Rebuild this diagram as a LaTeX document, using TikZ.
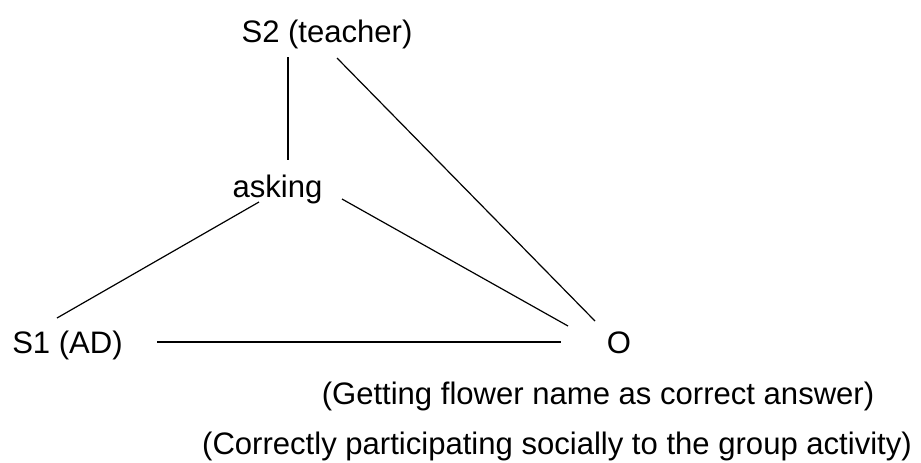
\documentclass[tikz,border=0pt]{standalone}
\usepackage{fontspec}
\setmainfont{Liberation Sans}
\begin{document}
\begin{tikzpicture}[x=0.75pt,y=-0.75pt,
	lbl/.style={anchor=base,inner sep=0pt,font=\fontsize{23.3}{28}\selectfont},
	tie/.style={line width=0.9pt}]
\useasboundingbox (0,0) rectangle (921,462);
\path
	(327,42) node [lbl] (teacher) {S2 (teacher)}
	(277.5,197) node [lbl] (asking) {asking}
	(67.5,353) node [lbl] (ad) {S1 (AD)}
	(619,353) node [lbl] (obj) {O}
	(598,404) node [lbl] (getting) {(Getting flower name as correct answer)}
	(557,454) node [lbl] (social) {(Correctly participating socially to the group activity)};
\draw [tie] ([shift={(-39,15)}]teacher.base) -- ([shift={(10.5,-37)}]asking.base);
\draw [tie] ([shift={(10,16)}]teacher.base) -- ([shift={(-24,-32)}]obj.base);
\draw [tie] ([shift={(-18.5,5)}]asking.base) -- ([shift={(-10.5,-35)}]ad.base);
\draw [tie] ([shift={(64.5,2)}]asking.base) -- ([shift={(-51,-27)}]obj.base);
\draw [tie] ([shift={(89.5,-11)}]ad.base) -- ([shift={(-58,-11)}]obj.base);
\end{tikzpicture}
\end{document}
